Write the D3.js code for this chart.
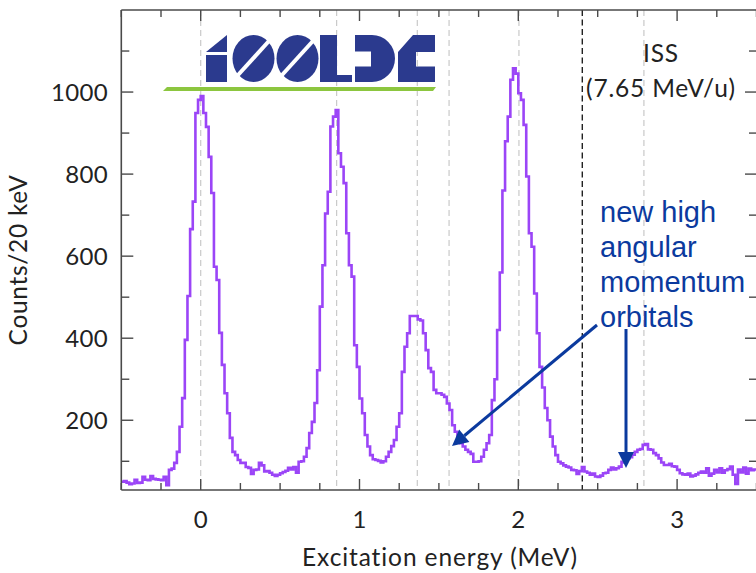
<!DOCTYPE html>
<html>
<head>
<meta charset="utf-8">
<script src="https://cdn.jsdelivr.net/npm/d3@7/dist/d3.min.js"></script>
<style>
  html, body { margin: 0; padding: 0; background: #ffffff; }
  svg { display: block; }
</style>
</head>
<body>
<svg id="chart" width="756" height="573"></svg>
<script>
// ---------------- data ----------------
const binStart = -0.5;          // MeV, left edge of the first bin
const binWidth = 1 / 60;        // MeV per bin
const counts = [
  50, 52, 48, 44, 46, 55, 47, 48, 62, 55,
  54, 64, 57, 56, 55, 54, 62, 42, 79, 82,
  96, 123, 184, 254, 396, 503, 666, 733, 949, 981,
  990, 949, 915, 842, 754, 574, 542, 413, 335, 266,
  217, 157, 123, 115, 103, 96, 96, 86, 84, 69,
  79, 80, 96, 90, 75, 76, 72, 67, 64, 67,
  71, 74, 77, 84, 80, 86, 72, 99, 100, 111,
  132, 169, 196, 242, 322, 477, 578, 704, 757, 916,
  940, 956, 851, 818, 778, 656, 578, 550, 383, 330,
  253, 217, 164, 136, 115, 105, 103, 101, 97, 100,
  111, 123, 137, 152, 184, 217, 318, 379, 412, 454,
  454, 454, 446, 443, 412, 371, 327, 318, 274, 266,
  266, 262, 257, 241, 225, 188, 172, 152, 144, 136,
  128, 123, 118, 99, 99, 100, 111, 128, 144, 164,
  249, 300, 420, 560, 760, 880, 940, 1030, 1058, 1045,
  997, 981, 920, 794, 656, 623, 509, 412, 330, 280,
  230, 200, 160, 136, 115, 99, 95, 90, 87, 85,
  79, 78, 69, 76, 86, 75, 72, 67, 70, 63,
  62, 65, 71, 72, 79, 85, 80, 83, 87, 99,
  97, 107, 110, 116, 123, 128, 130, 140, 142, 129,
  128, 120, 115, 107, 97, 91, 91, 94, 88, 87,
  79, 71, 68, 67, 70, 63, 65, 68, 72, 75,
  72, 83, 65, 70, 79, 73, 83, 72, 78, 81,
  87, 67, 45, 80, 73, 85, 70, 82, 78, 80
];
const xDomain = [-0.5, 3.5];
const yDomain = [30, 1200];
const xTickLabels = [0, 1, 2, 3];
const yTickLabels = [200, 400, 600, 800, 1000];
const stateEnergies = [0, 0.856, 1.364, 1.564, 2.004, 2.791];   // grey dashed guides
const limitEnergy = 2.403;                                       // black dashed line
const annotationLines = ["new high", "angular", "momentum", "orbitals"];
const beamLabel = ["ISS", "(7.65 MeV/u)"];

// ---------------- layout ----------------
const svg = d3.select("#chart");
const pLeft = 121.3, pRight = 756.5, pTop = 10, pBottom = 490;
const x = d3.scaleLinear().domain(xDomain).range([pLeft, pRight]);
const y = d3.scaleLinear().domain(yDomain).range([pBottom, pTop]);
const FONT = "Lato, 'Open Sans', sans-serif";
const axisColor = "#4a4a4a";
const textColor = "#222";

// guides
svg.append("g").selectAll("line").data(stateEnergies).join("line")
  .attr("x1", d => x(d)).attr("x2", d => x(d))
  .attr("y1", pTop).attr("y2", pBottom)
  .attr("stroke", "#c9c9c9").attr("stroke-width", 1.2)
  .attr("stroke-dasharray", "6,4");
svg.append("line")
  .attr("x1", x(limitEnergy)).attr("x2", x(limitEnergy))
  .attr("y1", pTop).attr("y2", pBottom)
  .attr("stroke", "#222").attr("stroke-width", 1.4)
  .attr("stroke-dasharray", "6,3.5");

// histogram (step line)
const pts = counts.map((c, i) => [binStart + i * binWidth, c]);
pts.push([binStart + counts.length * binWidth, counts[counts.length - 1]]);
const line = d3.line().x(d => x(d[0])).y(d => y(d[1])).curve(d3.curveStepAfter);
svg.append("path").datum(pts)
  .attr("d", line)
  .attr("fill", "none")
  .attr("stroke", "#9b45f7")
  .attr("stroke-width", 2.6)
  .attr("stroke-linejoin", "miter");

// axes frame
const gAx = svg.append("g");
const rightAxisX = 759;
const xMinor = d3.range(-0.5, 3.51, 0.25).filter(v => Math.abs(v - Math.round(v)) > 1e-6);
const yMinor = d3.range(100, 1201, 100).filter(v => v % 200 !== 0);
function hLine(yy) { gAx.append("line").attr("x1", pLeft).attr("x2", rightAxisX).attr("y1", yy).attr("y2", yy).attr("stroke", axisColor).attr("stroke-width", 1.6); }
function vLine(xx) { gAx.append("line").attr("x1", xx).attr("x2", xx).attr("y1", pTop).attr("y2", pBottom).attr("stroke", axisColor).attr("stroke-width", 1.6); }
hLine(pTop); hLine(pBottom); vLine(pLeft); vLine(rightAxisX);

function tickSet(vals, len, isX) {
  vals.forEach(v => {
    if (isX) {
      const xx = x(v);
      gAx.append("line").attr("x1", xx).attr("x2", xx).attr("y1", pBottom).attr("y2", pBottom - len).attr("stroke", axisColor).attr("stroke-width", 1.4);
      gAx.append("line").attr("x1", xx).attr("x2", xx).attr("y1", pTop).attr("y2", pTop + len).attr("stroke", axisColor).attr("stroke-width", 1.4);
    } else {
      const yy = y(v);
      gAx.append("line").attr("x1", pLeft).attr("x2", pLeft + len).attr("y1", yy).attr("y2", yy).attr("stroke", axisColor).attr("stroke-width", 1.4);
      gAx.append("line").attr("x1", rightAxisX).attr("x2", rightAxisX - len - 2).attr("y1", yy).attr("y2", yy).attr("stroke", axisColor).attr("stroke-width", 1.4);
    }
  });
}
tickSet(xTickLabels, 11, true);
tickSet(xMinor, 7, true);
tickSet(yTickLabels, 12, false);
tickSet(yMinor, 8, false);

// tick labels
svg.append("g").selectAll("text").data(xTickLabels).join("text")
  .attr("x", d => x(d)).attr("y", 528)
  .attr("text-anchor", "middle")
  .attr("font-family", FONT).attr("font-size", 24).attr("fill", textColor)
  .text(d => d);
svg.append("g").selectAll("text").data(yTickLabels).join("text")
  .attr("x", 108).attr("y", d => y(d))
  .attr("dy", "0.36em")
  .attr("text-anchor", "end")
  .attr("font-family", FONT).attr("font-size", 24).attr("fill", textColor)
  .attr("letter-spacing", 0.3)
  .text(d => d);

// axis titles
svg.append("text")
  .attr("x", 440).attr("y", 566)
  .attr("text-anchor", "middle")
  .attr("font-family", FONT).attr("font-size", 24.5).attr("fill", textColor)
  .attr("letter-spacing", 0.9)
  .text("Excitation energy (MeV)");
svg.append("text")
  .attr("transform", "translate(27,260) rotate(-90)")
  .attr("text-anchor", "middle")
  .attr("font-family", FONT).attr("font-size", 24.5).attr("fill", textColor)
  .attr("letter-spacing", 0.7)
  .text("Counts/20 keV");

// beam label
svg.append("g").selectAll("text").data(beamLabel).join("text")
  .attr("x", 661).attr("y", (d, i) => 62 + i * 35)
  .attr("text-anchor", "middle")
  .attr("font-family", FONT).attr("font-size", 24.5).attr("fill", textColor)
  .attr("letter-spacing", 0.8)
  .text(d => d);

// ISOLDE logo (decorative)
const logo = svg.append("g").attr("aria-label", "ISOLDE");
const blue = "#2b3a8e";
logo.append("path").attr("d", "M206,52 L227,35 L227,52 Z").attr("fill", blue);
logo.append("rect").attr("x", 206).attr("y", 55).attr("width", 21).attr("height", 27).attr("fill", blue);
[253.5, 297.5].forEach(cx => {
  logo.append("ellipse").attr("cx", cx).attr("cy", 58.5).attr("rx", 21).attr("ry", 23.5).attr("fill", blue);
  logo.append("line").attr("x1", cx - 20).attr("y1", 80).attr("x2", cx + 20).attr("y2", 36)
    .attr("stroke", "#fff").attr("stroke-width", 4);
});
logo.append("path").attr("d", "M320,35 H337 V75 H352 V82 H320 Z").attr("fill", blue);
logo.append("path").attr("d", "M355,35 H372 A23,23.5 0 0 1 372,82 H355 V66.5 H371 V51.5 H355 Z").attr("fill", blue);
logo.append("path").attr("d", "M398,52 L413,35 H435 V52 H416 V66.5 H435 V82 H398 Z").attr("fill", blue);
logo.append("path").attr("d", "M163,91 L167,87 H436 L433,91 Z").attr("fill", "#8cc63f");

// annotation
const annBlue = "#0b3a9e";
svg.append("g").selectAll("text").data(annotationLines).join("text")
  .attr("x", 600).attr("y", (d, i) => 222 + i * 35)
  .attr("font-family", "'Liberation Sans', Arial, sans-serif")
  .attr("font-size", 29).attr("fill", annBlue)
  .text(d => d);

function arrow(x1, y1, x2, y2) {
  const ang = Math.atan2(y2 - y1, x2 - x1);
  const L = 16, W = 8;
  const bx = x2 - L * Math.cos(ang), by = y2 - L * Math.sin(ang);
  svg.append("line").attr("x1", x1).attr("y1", y1).attr("x2", bx).attr("y2", by)
    .attr("stroke", annBlue).attr("stroke-width", 3);
  const px = -Math.sin(ang) * W, py = Math.cos(ang) * W;
  svg.append("path")
    .attr("d", `M${x2},${y2} L${bx + px},${by + py} L${bx - px},${by - py} Z`)
    .attr("fill", annBlue);
}
arrow(597, 325, 452, 446);
arrow(626, 329, 626, 468);
</script>
</body>
</html>
